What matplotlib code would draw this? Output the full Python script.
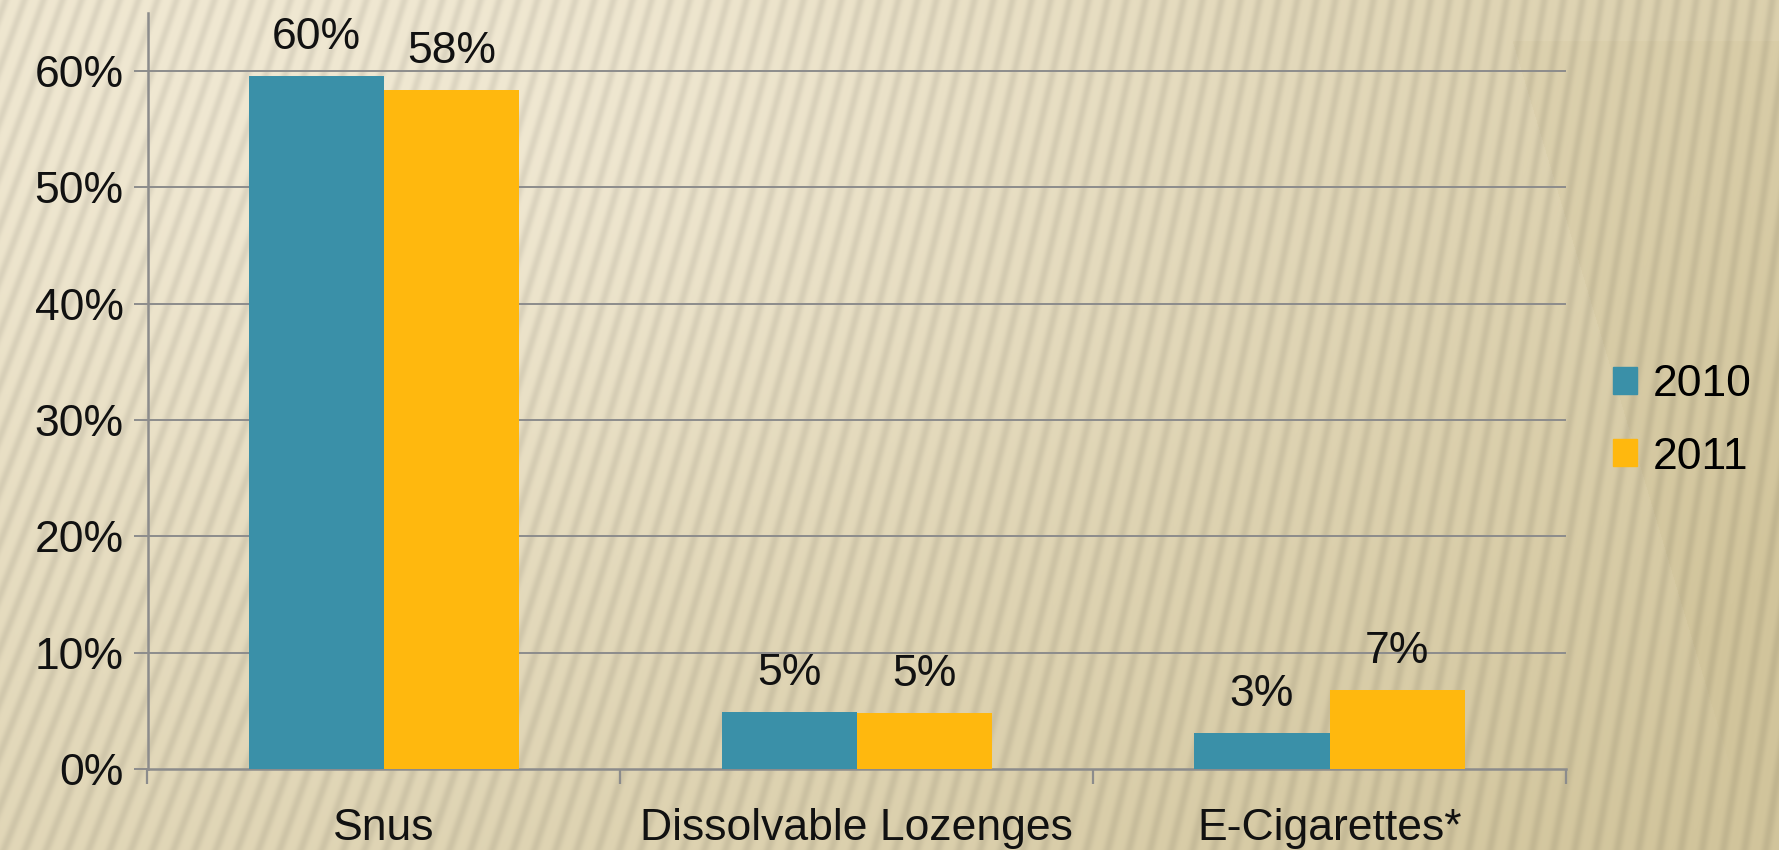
import numpy as np
import matplotlib
matplotlib.use('Agg')
import matplotlib.pyplot as plt
from matplotlib.patches import Patch

categories = ['Snus', 'Dissolvable Lozenges', 'E-Cigarettes*']
years = ['2010', '2011']
values_2010 = [59.6, 4.9, 3.1]
values_2011 = [58.4, 4.8, 6.8]
yticks = [0, 10, 20, 30, 40, 50, 60]

teal = '#3A90A8'
gold = '#FFB80E'
grey = '#8C8C8C'
font = ['Liberation Sans', 'DejaVu Sans']
fs = 32

W, H = 1779, 850
fig = plt.figure(figsize=(W / 100, H / 100), dpi=100)

# textured beige background
yy, xx = np.mgrid[0:H, 0:W].astype(float)
t = np.clip(0.15 + 0.55 * (xx / W) ** 1.5 + 0.35 * (yy / H) ** 1.3
            - 0.25 * np.exp(-((xx - 550) ** 2 / 4.5e5 + (yy - 150) ** 2 / 1.2e5)), 0, 1)
t = np.where((xx > 1500 + 0.3 * yy) & (yy > 40), np.clip(t + 0.1, 0, 1), t)
light = np.array([240, 232, 210]) / 255
dark = np.array([210, 197, 156]) / 255
bg = light[None, None, :] * (1 - t[..., None]) + dark[None, None, :] * t[..., None]
k = 0.36 - 0.22 * (xx / W)
phase = np.sin(2 * np.pi * (xx + k * yy) / 19.0)
stripe = (0.5 + 0.5 * phase) ** 2
bg = bg * (1 - 0.08 * stripe[..., None])
bax = fig.add_axes([0, 0, 1, 1], zorder=0)
bax.imshow(np.clip(bg, 0, 1), aspect='auto', interpolation='bilinear')
bax.axis('off')

ax = fig.add_axes([147.5 / W, 81 / H, (1566 - 147.5) / W, (769 - 13) / H], zorder=1)
ax.patch.set_alpha(0)

x = np.arange(len(categories))
bw = 0.286
b1 = ax.bar(x - bw / 2, values_2010, bw, color=teal, zorder=3, label=years[0])
b2 = ax.bar(x + bw / 2, values_2011, bw, color=gold, zorder=3, label=years[1])

for bars, vals in ((b1, values_2010), (b2, values_2011)):
    for r, v in zip(bars, vals):
        ax.annotate(f'{round(v)}%', (r.get_x() + r.get_width() / 2, v),
                    xytext=(0, 13), textcoords='offset points',
                    ha='center', va='bottom', fontsize=fs, family=font, color='#111111')

ax.set_xlim(-0.5, 2.5)
ax.set_ylim(0, 65)
ax.set_yticks(yticks)
ax.set_yticklabels([f'{v}%' for v in yticks], fontsize=fs, family=font, color='#111111')
ax.set_xticks(x)
ax.set_xticklabels(categories, fontsize=fs, family=font, color='#111111')
ax.set_xticks([-0.5, 0.5, 1.5, 2.5], minor=True)
ax.tick_params(axis='x', which='major', length=0, pad=28)
ax.tick_params(axis='x', which='minor', length=11, width=1.6, color=grey, direction='out')
ax.tick_params(axis='y', length=10, width=1.4, color=grey, direction='out', pad=7)

for v in yticks[1:]:
    ax.axhline(v, color=grey, lw=1.4, zorder=1)
for s in ('top', 'right'):
    ax.spines[s].set_visible(False)
for s in ('left', 'bottom'):
    ax.spines[s].set_color(grey)
    ax.spines[s].set_linewidth(1.8)

handles = [Patch(color=teal, label=years[0]), Patch(color=gold, label=years[1])]
fig.legend(handles=handles, loc='center left', bbox_to_anchor=(1613 / W, 1 - 421 / H),
           frameon=False, prop={'family': font, 'size': fs}, handlelength=0.55,
           handleheight=0.55, handletextpad=0.35, labelspacing=0.7, borderpad=0,
           borderaxespad=0)

fig.savefig('out.png', dpi=100)
